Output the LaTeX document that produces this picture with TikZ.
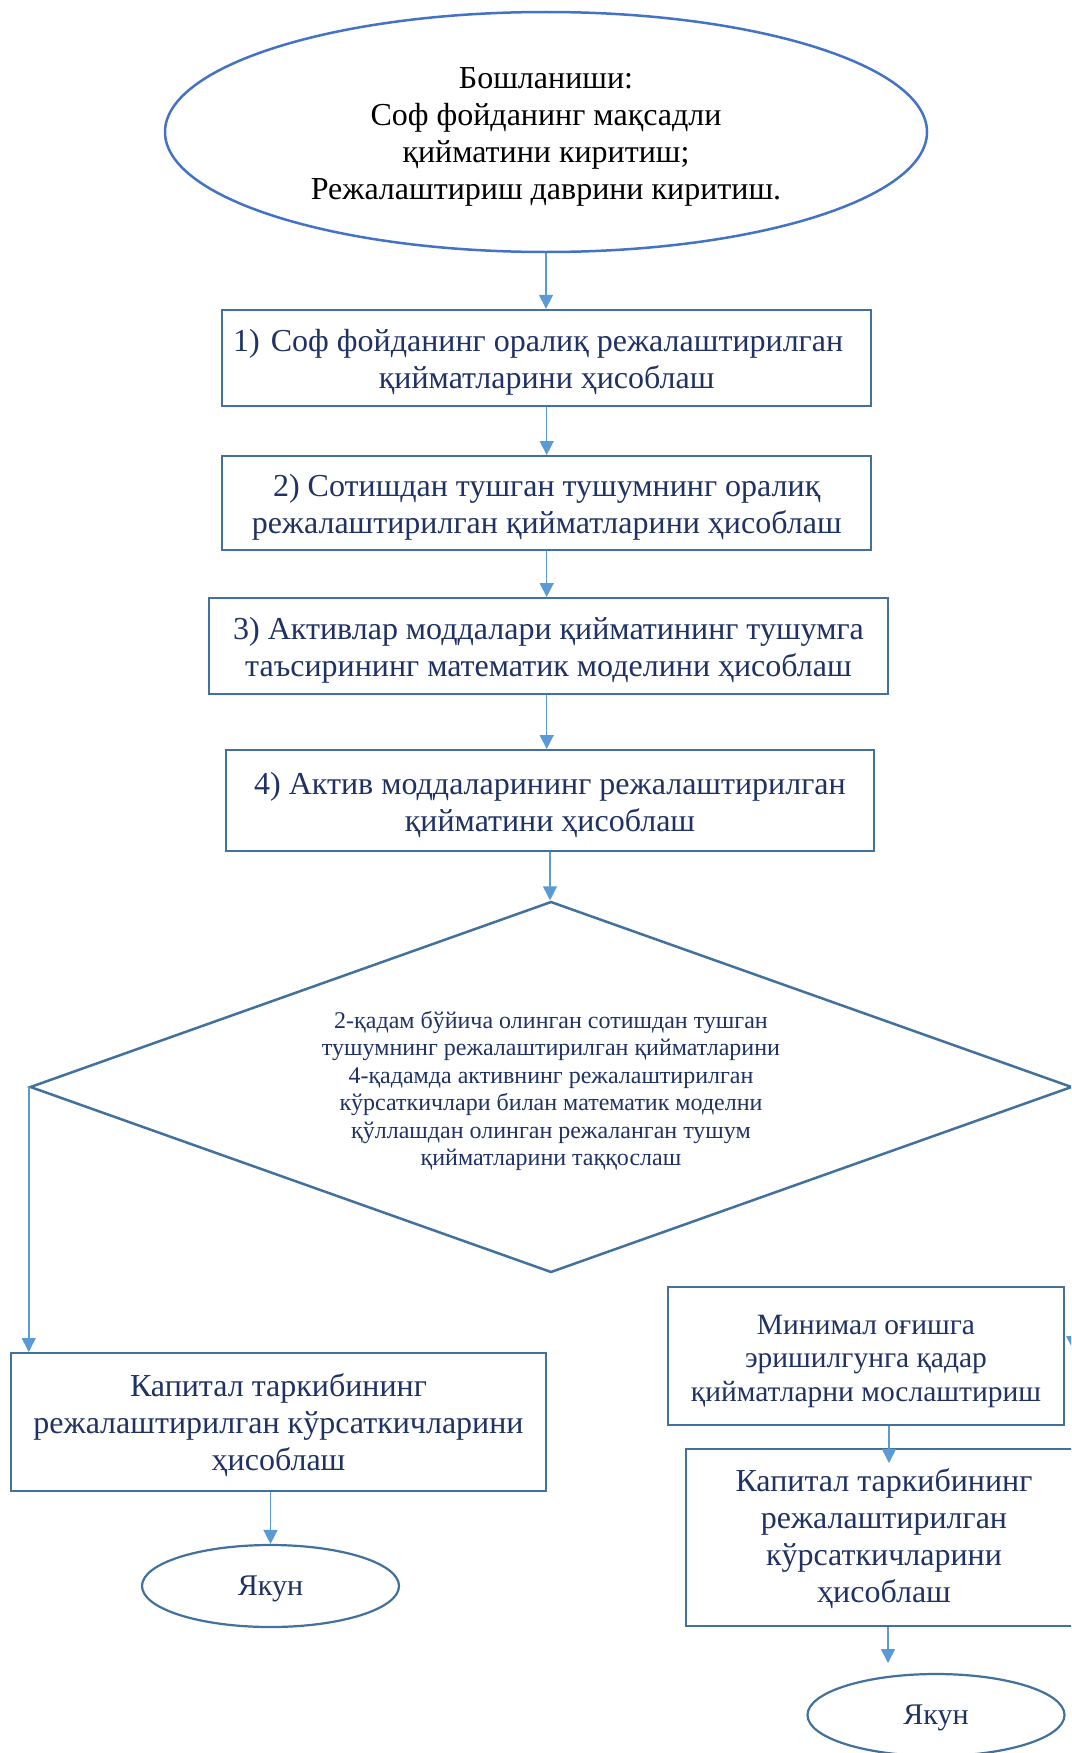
\documentclass[tikz,border=0pt]{standalone}
\usepackage{fontspec}
\setmainfont{Liberation Serif}
\usetikzlibrary{shapes.geometric,arrows.meta}
\definecolor{txt}{RGB}{31,50,99}
\definecolor{boxc}{RGB}{65,113,156}
\definecolor{ellc}{RGB}{68,114,196}
\definecolor{arrc}{RGB}{91,155,213}
\begin{document}
\begin{tikzpicture}[x=1pt,y=-1pt,
  box/.style={draw=boxc,line width=2pt,rectangle,inner sep=0pt},
  boxtxt/.style={inner sep=0pt,align=center,text=txt,font=\fontsize{32}{37}\selectfont},
  endell/.style={draw=boxc,line width=2.2pt,ellipse,inner sep=0pt,minimum width=257pt,minimum height=82pt},
  endtxt/.style={inner sep=0pt,text=txt,font=\fontsize{30}{35}\selectfont},
  arr/.style={draw=arrc,line width=1.5pt,-{Triangle[width=14pt,length=14pt]}}]
\useasboundingbox (0,0) rectangle (1071,1753);
\clip (0,0) rectangle (1071,1753);
\fill[white] (0,0) rectangle (1071,1753);

\node[draw=ellc,line width=2.5pt,ellipse,inner sep=0pt,minimum width=762pt,minimum height=240pt] (start) at (546,132) {};
\node[inner sep=0pt,align=center,text=black,font=\fontsize{32}{37}\selectfont] (starttxt) at ([yshift=-4.5pt]start.center)
  {Бошланиши:\\Соф фойданинг мақсадли\\қийматини киритиш;\\Режалаштириш даврини киритиш.};

\node[box,minimum width=648.5pt,minimum height=96pt] (b1) at (546.7,357.8) {};
\node[boxtxt] (b1t) at ([yshift=-4.5pt]b1.center)
  {1)\kern11pt Соф фойданинг оралиқ режалаштирилган\kern17pt\\қийматларини ҳисоблаш};
\node[box,minimum width=648.5pt,minimum height=94pt] (b2) at (546.7,503) {};
\node[boxtxt] (b2t) at ([yshift=-4.5pt]b2.center)
  {2) Сотишдан тушган тушумнинг оралиқ\\режалаштирилган қийматларини ҳисоблаш};
\node[box,minimum width=679pt,minimum height=96pt] (b3) at (548.5,646) {};
\node[boxtxt] (b3t) at ([yshift=-4.5pt]b3.center)
  {3) Активлар моддалари қийматининг тушумга\\таъсирининг математик моделини ҳисоблаш};
\node[box,minimum width=648pt,minimum height=101pt] (b4) at (550,800.5) {};
\node[boxtxt] (b4t) at ([yshift=-4.5pt]b4.center)
  {4) Актив моддаларининг режалаштирилган\\қийматини ҳисоблаш};

\node[draw=boxc,line width=2.5pt,diamond,inner sep=0pt,minimum width=1042pt,minimum height=371pt] (dia) at (551,1087) {};
\node[inner sep=0pt,align=center,text=txt,font=\fontsize{24}{27.5}\selectfont] (diat) at ([yshift=-4pt]dia.center)
  {2-қадам бўйича олинган сотишдан тушган\\тушумнинг режалаштирилган қийматларини\\4-қадамда активнинг режалаштирилган\\кўрсаткичлари билан математик моделни\\қўллашдан олинган режаланган тушум\\қийматларини таққослаш};

\node[box,minimum width=535pt,minimum height=138pt] (lbox) at (278.5,1422) {};
\node[boxtxt] (lboxt) at ([yshift=-3.5pt]lbox.center)
  {Капитал таркибининг\\режалаштирилган кўрсаткичларини\\ҳисоблаш};
\node[endell] (lend) at (270.5,1586) {};
\node[endtxt] (lendt) at ([yshift=-3pt]lend.center) {Якун};

\node[box,minimum width=395.5pt,minimum height=138pt] (rbox1) at (866,1356) {};
\node[boxtxt,font=\fontsize{29.5}{33.5}\selectfont] (rbox1t) at ([yshift=-5pt]rbox1.center)
  {Минимал оғишга\\эришилгунга қадар\\қийматларни мослаштириш};
\node[box,minimum width=395.5pt,minimum height=177pt] (rbox2) at (884,1537.5) {};
\node[boxtxt] (rbox2t) at ([yshift=-1pt]rbox2.center)
  {Капитал таркибининг\\режалаштирилган\\кўрсаткичларини\\ҳисоблаш};
\node[endell] (rend) at (936,1715) {};
\node[endtxt] (rendt) at ([yshift=-3pt]rend.center) {Якун};

\coordinate (rtip) at (1072,1350);
\coordinate (r12) at (889,1463);
\coordinate (r2e) at (888,1663);

\draw[arr] (start.south) -- (start.south |- b1.north);
\draw[arr] (b1.south) -- (b2.north);
\draw[arr] (b2.south) -- (b2.south |- b3.north);
\draw[arr] (b3.south -| b2.south) -- (b2.south |- b4.north);
\draw[arr] (b4.south) -- (b4.south |- dia.north);
\draw[arr] (dia.west) -- (dia.west |- lbox.north);
\draw[arr] (dia.east) -- (dia.east |- rtip);
\draw[arr] (lbox.south -| lend.north) -- (lend.north);
\draw[arr] (rbox1.south -| r12) -- (r12);
\draw[arr] (rbox2.south -| r2e) -- (r2e);
\end{tikzpicture}
\end{document}
